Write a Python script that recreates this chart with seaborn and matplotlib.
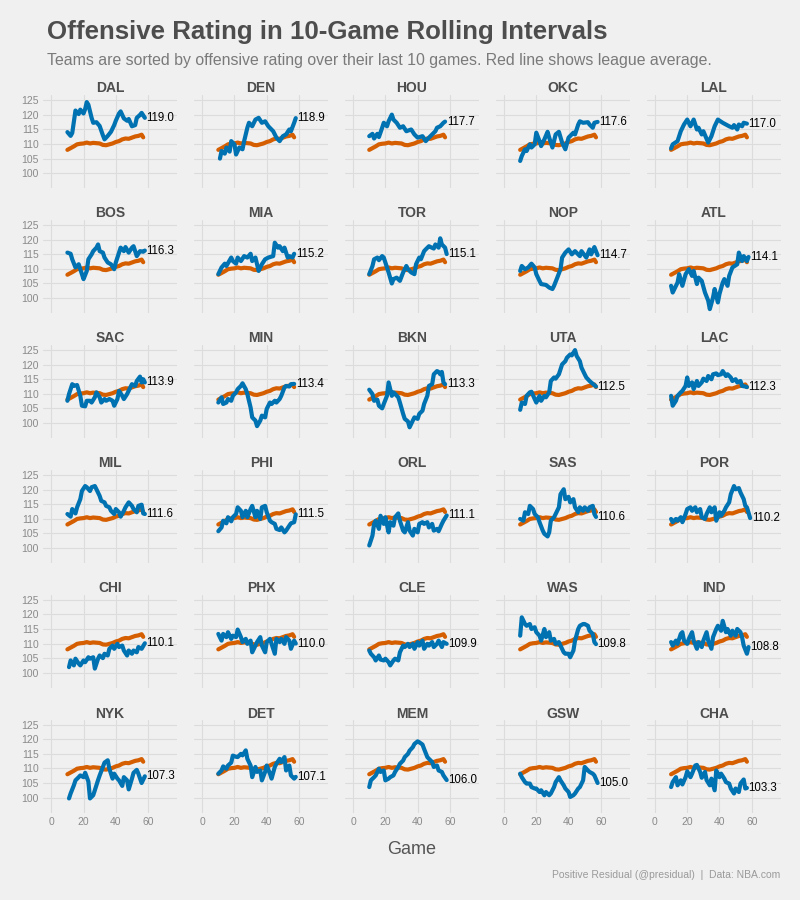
import pandas as pd
import matplotlib.pyplot as plt
import seaborn as sns

# league average 10-game rolling ORtg (same curve in every panel)
league_games = [10, 12, 14, 16, 18, 20, 22, 24, 26, 28, 30, 32, 34, 36, 38, 40, 42, 44, 46, 48, 50, 52, 54, 56, 57]
league_ortg = [108.0, 108.6, 109.2, 109.9, 110.1, 110.2, 110.5, 110.2, 110.4, 110.3, 110.2, 109.7, 109.6,
               109.9, 110.2, 110.7, 111.0, 111.6, 111.9, 111.8, 112.2, 112.6, 112.8, 113.2, 112.3]

# team rolling ORtg
dal_games = [10, 12, 13, 15, 17, 18, 20, 21, 22, 23, 25, 26, 28, 30, 32, 33, 35, 37, 39, 40, 42, 43, 45, 47, 48, 50, 52, 53, 55, 56, 58]
dal_ortg = [114.1, 112.8, 113.8, 121.5, 120.3, 121.8, 120.5, 122.0, 124.4, 123.5, 119.0, 117.3, 117.5, 116.2, 113.0, 111.6,
            112.8, 114.2, 116.5, 118.0, 120.5, 121.2, 118.8, 118.0, 118.6, 116.1, 116.5, 119.0, 120.0, 120.7, 119.0]

den_games = [11, 12, 14, 15, 17, 18, 20, 21, 23, 25, 26, 28, 29, 31, 33, 35, 37, 39, 41, 44, 46, 48, 50, 52, 54, 55, 57, 58]
den_ortg = [105.0, 107.6, 106.7, 108.8, 107.4, 111.0, 109.9, 106.4, 108.8, 108.2, 111.0, 115.6, 117.3, 116.1, 118.4, 119.0,
            117.3, 117.8, 116.1, 114.4, 112.2, 111.0, 112.7, 113.3, 115.0, 114.4, 117.3, 118.9]

hou_games = [10, 12, 13, 15, 16, 18, 19, 21, 22, 24, 25, 27, 29, 31, 33, 36, 38, 40, 43, 45, 47, 49, 51, 52, 54, 56, 57]
hou_ortg = [112.7, 113.5, 111.9, 113.5, 112.4, 115.6, 117.3, 116.1, 117.8, 120.1, 118.4, 117.3, 115.6, 116.1, 114.4, 115.0,
            113.3, 112.2, 112.7, 111.0, 112.2, 113.3, 114.4, 115.6, 116.1, 117.3, 117.7]

okc_games = [10, 11, 13, 14, 16, 17, 19, 20, 22, 23, 25, 27, 28, 30, 32, 34, 36, 38, 40, 43, 44, 46, 47, 49, 52, 53, 55, 56, 58]
okc_ortg = [104.2, 105.9, 108.2, 107.6, 109.9, 108.8, 109.9, 113.9, 111.0, 109.3, 111.6, 114.2, 112.2, 108.8, 113.3, 114.2,
            110.5, 108.2, 112.2, 113.9, 113.3, 116.7, 117.8, 117.3, 117.5, 116.7, 115.6, 117.3, 117.6]

lal_games = [10, 11, 14, 16, 18, 20, 22, 24, 26, 27, 29, 30, 33, 35, 37, 39, 42, 44, 46, 48, 49, 51, 52, 54, 55, 57]
lal_ortg = [108.5, 109.9, 111.0, 114.4, 116.7, 118.4, 116.1, 118.4, 115.0, 115.6, 113.3, 114.4, 110.5, 112.7, 116.1, 118.4,
            117.3, 116.7, 116.1, 115.6, 116.5, 115.0, 116.7, 116.1, 117.3, 117.0]

bos_games = [10, 12, 13, 15, 17, 19, 20, 22, 23, 25, 26, 28, 29, 30, 32, 33, 35, 37, 39, 40, 42, 43, 45, 46, 48, 50, 51, 53, 55, 57, 58]
bos_ortg = [115.6, 115.2, 113.3, 110.5, 111.6, 108.2, 106.5, 109.3, 113.3, 115.0, 116.1, 117.3, 118.4, 116.1, 115.6, 113.9,
            112.2, 111.6, 109.9, 112.2, 115.6, 117.3, 116.1, 117.5, 115.6, 117.3, 117.8, 114.4, 116.1, 115.9, 116.3]

mia_games = [10, 12, 14, 15, 18, 19, 21, 22, 24, 26, 28, 30, 31, 33, 35, 37, 39, 41, 44, 45, 47, 48, 50, 51, 53, 54, 56, 57]
mia_ortg = [108.2, 110.5, 111.8, 111.0, 113.9, 112.7, 111.8, 113.9, 112.7, 114.4, 113.9, 115.2, 112.7, 113.9, 109.3, 111.6,
            113.3, 113.9, 114.4, 119.0, 117.3, 117.8, 116.1, 117.3, 113.9, 114.4, 113.9, 115.2]

tor_games = [10, 12, 13, 15, 16, 18, 19, 21, 22, 24, 25, 27, 29, 31, 33, 34, 36, 38, 39, 41, 42, 44, 45, 47, 48, 50, 51, 53, 54, 55, 57, 58]
tor_ortg = [108.2, 111.0, 113.3, 113.9, 113.0, 114.4, 113.9, 110.5, 108.8, 105.0, 106.5, 107.0, 105.9, 108.8, 111.0, 109.9,
            108.8, 108.2, 111.6, 113.9, 113.3, 116.1, 116.7, 117.8, 117.5, 117.0, 118.4, 117.3, 120.5, 118.4, 117.3, 115.1]

nop_games = [10, 11, 13, 15, 17, 19, 20, 22, 23, 26, 28, 30, 31, 33, 35, 36, 38, 40, 42, 44, 47, 48, 51, 53, 54, 56, 57, 58]
nop_ortg = [109.3, 111.0, 109.9, 110.5, 111.8, 110.5, 108.2, 105.9, 104.8, 104.5, 103.6, 103.1, 104.2, 107.0, 109.9, 113.9,
            115.6, 116.7, 115.0, 116.1, 114.4, 116.1, 113.9, 116.7, 115.0, 117.5, 116.1, 114.7]

atl_games = [10, 11, 14, 15, 17, 19, 21, 23, 24, 26, 27, 29, 31, 33, 34, 36, 37, 39, 40, 42, 43, 45, 46, 48, 51, 52, 54, 55, 57, 58]
atl_ortg = [104.2, 101.9, 105.3, 108.2, 104.2, 108.2, 109.9, 107.6, 109.3, 104.8, 107.0, 105.9, 101.9, 99.1, 96.2, 100.2,
            103.1, 98.5, 101.4, 105.3, 106.5, 104.2, 107.6, 110.5, 111.6, 115.6, 112.7, 114.4, 112.7, 114.1]

sac_games = [10, 11, 13, 14, 16, 18, 19, 21, 22, 24, 25, 27, 28, 30, 31, 33, 34, 36, 38, 39, 41, 42, 44, 45, 47, 49, 50, 52, 53, 55, 56, 57, 58]
sac_ortg = [107.6, 109.9, 113.3, 112.7, 113.0, 109.3, 105.9, 105.7, 107.6, 107.6, 107.0, 108.8, 110.5, 108.8, 107.0, 108.2,
            107.6, 108.2, 107.6, 105.9, 108.2, 111.0, 109.3, 108.2, 109.9, 112.2, 113.3, 112.7, 114.4, 115.9, 113.9, 115.0, 113.9]

min_games = [10, 12, 13, 15, 16, 18, 19, 21, 22, 24, 25, 27, 28, 30, 31, 33, 34, 36, 37, 39, 40, 42, 43, 45, 46, 48, 49, 51, 52, 54, 55, 57]
min_ortg = [107.0, 108.8, 106.5, 107.0, 108.2, 107.6, 109.3, 110.5, 111.6, 112.7, 113.6, 111.6, 109.9, 105.3, 101.9, 100.8,
            98.9, 100.8, 102.5, 101.9, 104.8, 107.0, 106.5, 107.6, 107.0, 108.2, 109.3, 112.2, 112.7, 112.5, 113.3, 113.4]

bkn_games = [10, 12, 13, 15, 16, 18, 19, 21, 22, 24, 25, 28, 29, 31, 32, 34, 35, 37, 38, 40, 41, 43, 44, 46, 47, 49, 50, 52, 53, 54, 55, 56, 57]
bkn_ortg = [111.4, 109.9, 107.6, 108.0, 105.9, 105.0, 106.5, 109.3, 113.9, 109.3, 110.5, 108.8, 107.0, 103.1, 101.4, 100.5,
            98.5, 100.8, 101.9, 101.4, 103.1, 104.2, 106.5, 109.3, 112.7, 113.3, 116.7, 117.8, 117.5, 116.7, 117.5, 113.9, 113.3]

uta_games = [10, 11, 13, 14, 16, 17, 19, 20, 22, 23, 25, 26, 28, 29, 31, 32, 34, 36, 38, 39, 41, 42, 44, 45, 47, 48, 50, 51, 53, 54, 56, 57]
uta_ortg = [104.5, 107.0, 106.5, 109.3, 110.5, 110.7, 108.2, 107.0, 109.3, 107.6, 109.3, 108.8, 110.5, 114.4, 115.6, 115.2,
            116.7, 120.1, 121.2, 122.4, 123.5, 123.2, 125.0, 123.0, 121.2, 119.0, 116.7, 115.6, 114.4, 113.9, 113.0, 112.5]

lac_games = [10, 11, 13, 14, 16, 17, 19, 20, 21, 23, 24, 26, 27, 29, 30, 32, 33, 35, 36, 38, 39, 41, 42, 44, 45, 47, 48, 50, 51, 53, 54, 56, 57]
lac_ortg = [109.3, 105.9, 107.6, 109.3, 110.5, 111.0, 112.7, 115.6, 112.7, 113.9, 111.6, 114.4, 112.7, 113.9, 115.2, 114.4,
            116.1, 115.0, 116.7, 117.0, 116.4, 116.7, 117.8, 116.1, 116.7, 115.6, 114.4, 115.0, 113.9, 114.4, 112.7, 112.5, 112.3]

mil_games = [10, 12, 13, 15, 16, 18, 19, 21, 22, 24, 25, 27, 28, 30, 31, 33, 34, 36, 37, 39, 40, 42, 43, 45, 46, 48, 50, 51, 53, 54, 56, 57, 58]
mil_ortg = [111.6, 110.7, 113.3, 111.8, 113.9, 116.7, 119.5, 121.2, 120.8, 119.5, 120.8, 121.2, 120.1, 117.8, 116.1, 115.6,
            114.4, 113.9, 112.7, 111.6, 113.3, 112.2, 110.7, 112.7, 113.9, 115.6, 114.4, 113.3, 112.2, 114.4, 114.8, 111.8, 111.6]

phi_games = [10, 12, 13, 15, 16, 18, 19, 21, 22, 24, 25, 27, 28, 30, 31, 33, 34, 36, 37, 39, 40, 42, 43, 45, 46, 48, 49, 51, 52, 54, 55, 57, 58]
phi_ortg = [105.7, 107.0, 109.3, 108.4, 110.5, 109.1, 110.5, 111.6, 113.9, 112.7, 110.5, 112.7, 110.5, 113.3, 114.4, 110.5,
            112.7, 109.9, 113.9, 114.4, 112.2, 109.3, 108.8, 108.2, 106.5, 106.1, 107.0, 105.3, 105.9, 107.6, 108.4, 108.8, 111.5]

orl_games = [10, 12, 13, 14, 16, 17, 19, 20, 22, 23, 25, 26, 28, 29, 31, 32, 34, 35, 37, 38, 40, 41, 43, 44, 46, 47, 49, 50, 52, 53, 55, 56, 58]
orl_ortg = [100.8, 104.2, 108.2, 109.3, 106.5, 111.0, 108.2, 110.5, 105.3, 108.8, 107.6, 110.5, 111.8, 109.3, 105.9, 105.3,
            108.8, 105.9, 104.2, 106.5, 105.3, 108.2, 108.8, 108.2, 108.8, 107.0, 108.2, 105.9, 106.5, 105.7, 108.2, 109.3, 111.1]

sas_games = [10, 12, 13, 15, 16, 18, 19, 21, 22, 24, 25, 27, 28, 29, 31, 32, 34, 35, 37, 38, 40, 41, 43, 44, 46, 47, 49, 50, 52, 53, 55, 56, 57]
sas_ortg = [109.9, 109.3, 112.2, 111.6, 114.4, 113.3, 111.6, 110.5, 108.8, 105.9, 104.8, 103.9, 105.3, 109.3, 110.5, 111.6,
            113.9, 118.4, 120.1, 116.7, 117.5, 115.6, 116.7, 113.9, 112.2, 113.9, 112.7, 113.9, 112.7, 113.9, 114.4, 111.6, 110.6]

por_games = [10, 11, 13, 14, 16, 17, 19, 20, 22, 23, 25, 26, 28, 29, 31, 32, 34, 35, 37, 38, 40, 41, 43, 44, 46, 47, 49, 50, 52, 53, 55, 56, 57, 59]
por_ortg = [109.9, 108.8, 109.9, 109.3, 110.5, 108.8, 111.6, 113.3, 113.9, 112.7, 113.9, 112.2, 113.3, 110.5, 109.9, 111.6,
            113.9, 112.2, 113.9, 109.3, 112.2, 111.0, 112.7, 113.9, 115.6, 118.4, 121.2, 120.1, 120.5, 119.0, 116.7, 114.4, 113.9, 110.2]

chi_games = [11, 12, 14, 15, 17, 18, 20, 21, 23, 24, 26, 27, 29, 30, 32, 33, 35, 36, 38, 39, 41, 42, 44, 45, 47, 48, 50, 51, 53, 54, 56, 58]
chi_ortg = [101.9, 104.2, 102.5, 104.8, 103.1, 102.5, 104.2, 103.6, 105.3, 104.8, 105.3, 101.4, 104.8, 105.9, 105.0, 106.5,
            105.9, 108.2, 109.3, 108.2, 109.9, 108.8, 109.3, 107.6, 105.9, 107.6, 106.5, 107.6, 107.0, 108.8, 108.2, 110.1]

phx_games = [10, 12, 13, 15, 16, 18, 19, 21, 22, 24, 25, 27, 28, 30, 31, 33, 34, 36, 37, 39, 40, 42, 43, 45, 46, 48, 49, 51, 52, 54, 55, 57, 58]
phx_ortg = [113.3, 111.0, 113.3, 112.2, 113.9, 111.6, 112.7, 112.2, 114.8, 112.2, 110.5, 111.6, 109.9, 111.0, 107.0, 109.3,
            110.5, 112.2, 109.3, 107.0, 110.5, 111.6, 109.9, 106.5, 111.6, 110.5, 111.6, 109.9, 112.2, 111.0, 108.2, 111.0, 110.0]

cle_games = [10, 11, 13, 14, 16, 17, 19, 20, 22, 23, 25, 26, 28, 29, 31, 32, 34, 35, 37, 38, 40, 41, 43, 44, 46, 47, 49, 50, 52, 53, 55, 56, 58]
cle_ortg = [107.6, 106.5, 105.3, 104.2, 105.9, 104.5, 104.2, 104.8, 103.6, 102.5, 104.2, 104.8, 104.2, 107.0, 109.3, 108.8,
            109.9, 108.8, 109.9, 108.2, 110.5, 109.3, 111.0, 108.2, 109.9, 109.3, 110.5, 108.8, 109.9, 111.0, 108.8, 110.5, 109.9]

was_games = [10, 11, 13, 14, 16, 17, 19, 20, 22, 23, 25, 26, 28, 29, 31, 32, 34, 35, 37, 38, 40, 41, 43, 44, 46, 47, 49, 50, 52, 53, 55, 56, 57]
was_ortg = [112.7, 119.0, 116.7, 116.1, 116.7, 115.0, 115.6, 113.9, 112.7, 111.0, 115.0, 112.2, 113.9, 111.0, 111.6, 109.9,
            110.5, 109.3, 107.0, 106.5, 106.5, 105.3, 107.6, 111.0, 115.0, 116.1, 116.7, 116.7, 116.1, 114.4, 113.3, 110.5, 109.8]

ind_games = [10, 11, 13, 14, 16, 17, 18, 20, 21, 23, 24, 26, 27, 29, 30, 32, 33, 35, 36, 38, 39, 41, 42, 44, 45, 47, 48, 50, 51, 53, 54, 55, 57, 58]
ind_ortg = [110.5, 109.3, 111.0, 109.9, 113.3, 113.9, 111.0, 109.9, 111.6, 113.9, 111.0, 108.2, 110.5, 108.8, 111.0, 113.9,
            111.0, 108.2, 112.2, 115.0, 116.1, 114.4, 117.8, 113.9, 115.0, 112.7, 114.4, 112.7, 115.0, 113.9, 112.2, 109.3, 106.5, 108.8]

nyk_games = [11, 12, 14, 15, 17, 18, 20, 21, 23, 24, 26, 27, 29, 30, 32, 33, 35, 36, 38, 39, 41, 42, 44, 45, 47, 48, 50, 51, 53, 54, 56, 58]
nyk_ortg = [99.7, 101.4, 104.2, 105.9, 107.0, 107.6, 107.0, 108.5, 105.5, 99.7, 100.8, 102.5, 106.0, 107.6, 110.5, 112.0,
            112.8, 109.9, 106.5, 108.2, 106.5, 105.9, 104.0, 107.0, 105.9, 102.8, 106.5, 108.5, 109.5, 108.2, 105.0, 107.3]

det_games = [10, 12, 13, 15, 16, 18, 19, 21, 22, 24, 25, 27, 28, 30, 31, 33, 34, 36, 37, 39, 40, 42, 43, 45, 46, 48, 49, 51, 52, 54, 55, 57, 58]
det_ortg = [108.2, 109.3, 110.7, 109.9, 111.0, 112.0, 114.4, 114.0, 113.9, 115.0, 114.5, 116.2, 113.3, 111.0, 107.0, 110.5,
            108.8, 109.3, 105.9, 108.8, 111.0, 108.2, 106.5, 110.5, 111.6, 113.3, 112.2, 113.9, 109.3, 111.0, 107.6, 106.5, 107.1]

mem_games = [10, 11, 13, 14, 16, 17, 19, 20, 22, 23, 25, 26, 28, 29, 31, 32, 34, 35, 37, 38, 40, 41, 43, 44, 46, 47, 49, 50, 52, 53, 55, 56, 58]
mem_ortg = [103.6, 105.9, 107.0, 107.6, 109.9, 108.8, 109.3, 105.9, 106.5, 107.0, 107.6, 108.8, 110.5, 111.6, 112.7, 113.9,
            115.0, 116.1, 117.3, 118.4, 119.3, 119.0, 118.2, 116.7, 113.9, 113.3, 112.2, 110.5, 111.0, 109.3, 108.8, 107.6, 106.0]

gsw_games = [10, 11, 13, 14, 16, 17, 19, 20, 22, 23, 25, 26, 28, 29, 31, 32, 34, 35, 37, 38, 40, 41, 43, 44, 46, 47, 49, 50, 52, 53, 55, 56, 58]
gsw_ortg = [108.2, 107.0, 105.3, 104.8, 104.8, 103.6, 103.1, 103.1, 101.9, 102.5, 100.8, 101.9, 100.8, 101.4, 103.6, 105.3,
            107.0, 105.9, 104.2, 103.1, 101.9, 100.2, 100.8, 101.4, 103.1, 103.6, 105.9, 110.5, 109.3, 108.8, 108.2, 107.6, 105.0]

cha_games = [10, 11, 13, 14, 16, 17, 19, 20, 22, 23, 25, 26, 28, 29, 31, 32, 34, 35, 37, 38, 40, 41, 43, 44, 46, 47, 49, 50, 52, 53, 55, 56, 57]
cha_ortg = [103.6, 105.3, 107.0, 104.2, 105.9, 104.5, 107.0, 109.0, 107.0, 108.2, 111.0, 111.2, 108.8, 106.8, 108.8, 106.0,
            104.2, 106.5, 102.5, 109.3, 107.0, 108.2, 106.5, 105.3, 104.8, 103.1, 101.4, 103.1, 101.9, 104.8, 106.2, 103.1, 103.3]

teams = ['DAL', 'DEN', 'HOU', 'OKC', 'LAL',
         'BOS', 'MIA', 'TOR', 'NOP', 'ATL',
         'SAC', 'MIN', 'BKN', 'UTA', 'LAC',
         'MIL', 'PHI', 'ORL', 'SAS', 'POR',
         'CHI', 'PHX', 'CLE', 'WAS', 'IND',
         'NYK', 'DET', 'MEM', 'GSW', 'CHA']
series = [(dal_games, dal_ortg), (den_games, den_ortg), (hou_games, hou_ortg), (okc_games, okc_ortg), (lal_games, lal_ortg),
          (bos_games, bos_ortg), (mia_games, mia_ortg), (tor_games, tor_ortg), (nop_games, nop_ortg), (atl_games, atl_ortg),
          (sac_games, sac_ortg), (min_games, min_ortg), (bkn_games, bkn_ortg), (uta_games, uta_ortg), (lac_games, lac_ortg),
          (mil_games, mil_ortg), (phi_games, phi_ortg), (orl_games, orl_ortg), (sas_games, sas_ortg), (por_games, por_ortg),
          (chi_games, chi_ortg), (phx_games, phx_ortg), (cle_games, cle_ortg), (was_games, was_ortg), (ind_games, ind_ortg),
          (nyk_games, nyk_ortg), (det_games, det_ortg), (mem_games, mem_ortg), (gsw_games, gsw_ortg), (cha_games, cha_ortg)]

BLUE = '#0072B2'
ORANGE = '#D55E00'
BG = '#f0f0f0'

# long table for seaborn
rows = []
for team, (g, v) in zip(teams, series):
    for x, y in zip(g, v):
        rows.append({'team': team, 'game': x, 'ortg': y})
df = pd.DataFrame(rows)
league = pd.DataFrame({'game': league_games, 'ortg': league_ortg})

sns.set_style('white', rc={'axes.facecolor': BG, 'figure.facecolor': BG})
plt.rcParams['font.family'] = ['Liberation Sans', 'DejaVu Sans']

fig, axes = plt.subplots(6, 5, figsize=(8, 9), dpi=100, sharex=True, sharey=True)
fig.subplots_adjust(left=0.054, right=0.976, top=0.894, bottom=0.097, wspace=0.127, hspace=0.344)

for ax, team in zip(axes.flat, teams):
    sub = df[df['team'] == team]
    sns.lineplot(data=league, x='game', y='ortg', color=ORANGE, lw=3.0, ax=ax)
    sns.lineplot(data=sub, x='game', y='ortg', color=BLUE, lw=3.0, ax=ax)
    last = sub.iloc[-1]
    ax.text(last['game'] + 1.0, last['ortg'], f"{last['ortg']:.1f}", fontsize=8.3, color='black',
            ha='left', va='center')
    ax.set_title(team, fontsize=10, fontweight='bold', color='#4d4d4d', pad=1)
    ax.set_xlabel('')
    ax.set_ylabel('')
    ax.set_xlim(-5, 78)
    ax.set_ylim(94.8, 126.7)
    ax.set_xticks([0, 20, 40, 60])
    ax.set_yticks([100, 105, 110, 115, 120, 125])
    ax.grid(True, color='#dcdcdc', lw=0.8)
    ax.set_axisbelow(True)
    ax.tick_params(length=0, labelsize=7.5, colors='#8a8a8a', pad=3)
    for s in ax.spines.values():
        s.set_visible(False)

fig.text(47 / 800, 1 - 32 / 900, 'Offensive Rating in 10-Game Rolling Intervals',
         fontsize=18.6, fontweight='bold', color='#4d4d4d', va='center', ha='left')
fig.text(47 / 800, 1 - 60 / 900,
         'Teams are sorted by offensive rating over their last 10 games. Red line shows league average.',
         fontsize=11.4, color='#7a7a7a', va='center', ha='left')
fig.text(412 / 800, 1 - 850 / 900, 'Game', fontsize=13, color='#555555', ha='center', va='center')
fig.text(780 / 800, 1 - 875 / 900, 'Positive Residual (@presidual)  |  Data: NBA.com',
         fontsize=7.5, color='#9a9a9a', ha='right', va='center')

fig.savefig('out.png', dpi=100, facecolor=BG)
